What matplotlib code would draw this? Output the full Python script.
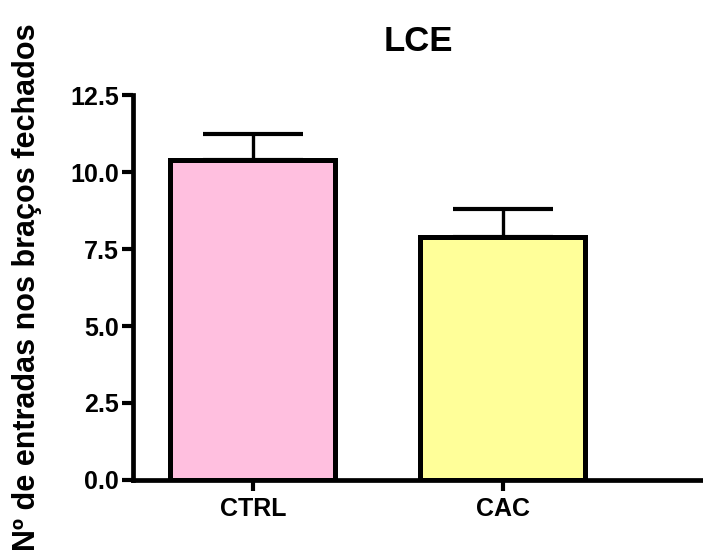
import numpy as np
import matplotlib
matplotlib.use('Agg')
import matplotlib.pyplot as plt

plt.rcParams['font.family'] = ['Liberation Sans', 'DejaVu Sans']
plt.rcParams['font.weight'] = 'bold'

groups = ['CTRL', 'CAC']
means = [10.4, 7.9]
sem = [0.83, 0.91]
colors = ['#FFBFDF', '#FFFF99']

fig = plt.figure(figsize=(7.03, 5.6), dpi=100)
ax = fig.add_axes([0.189, 0.143, 0.811, 0.687])

x = np.arange(len(groups))
ax.bar(x, means, width=0.66, color=colors, edgecolor='black', linewidth=3.6, zorder=2)
ax.errorbar(x, means, yerr=[np.zeros(len(sem)), sem], fmt='none', ecolor='black',
            elinewidth=2.4, capsize=36, capthick=3, zorder=1)

ax.set_xlim(-0.48, 1.8)
ax.set_ylim(0, 12.5)
ax.set_yticks([0, 2.5, 5, 7.5, 10, 12.5])
ax.set_yticklabels(['0.0', '2.5', '5.0', '7.5', '10.0', '12.5'])
ax.set_xticks(x)
ax.set_xticklabels(groups)

for s in ['top', 'right']:
    ax.spines[s].set_visible(False)
for s in ['left', 'bottom']:
    ax.spines[s].set_linewidth(3.4)
ax.tick_params(width=3, length=8, labelsize=18, pad=2)
ax.tick_params(axis='x', pad=4)

ax.set_ylabel('Nº de entradas nos braços fechados', fontsize=22, fontweight='bold', labelpad=20)
ax.set_title('LCE', fontsize=25, fontweight='bold', pad=32)

fig.savefig('out.png', dpi=100)
